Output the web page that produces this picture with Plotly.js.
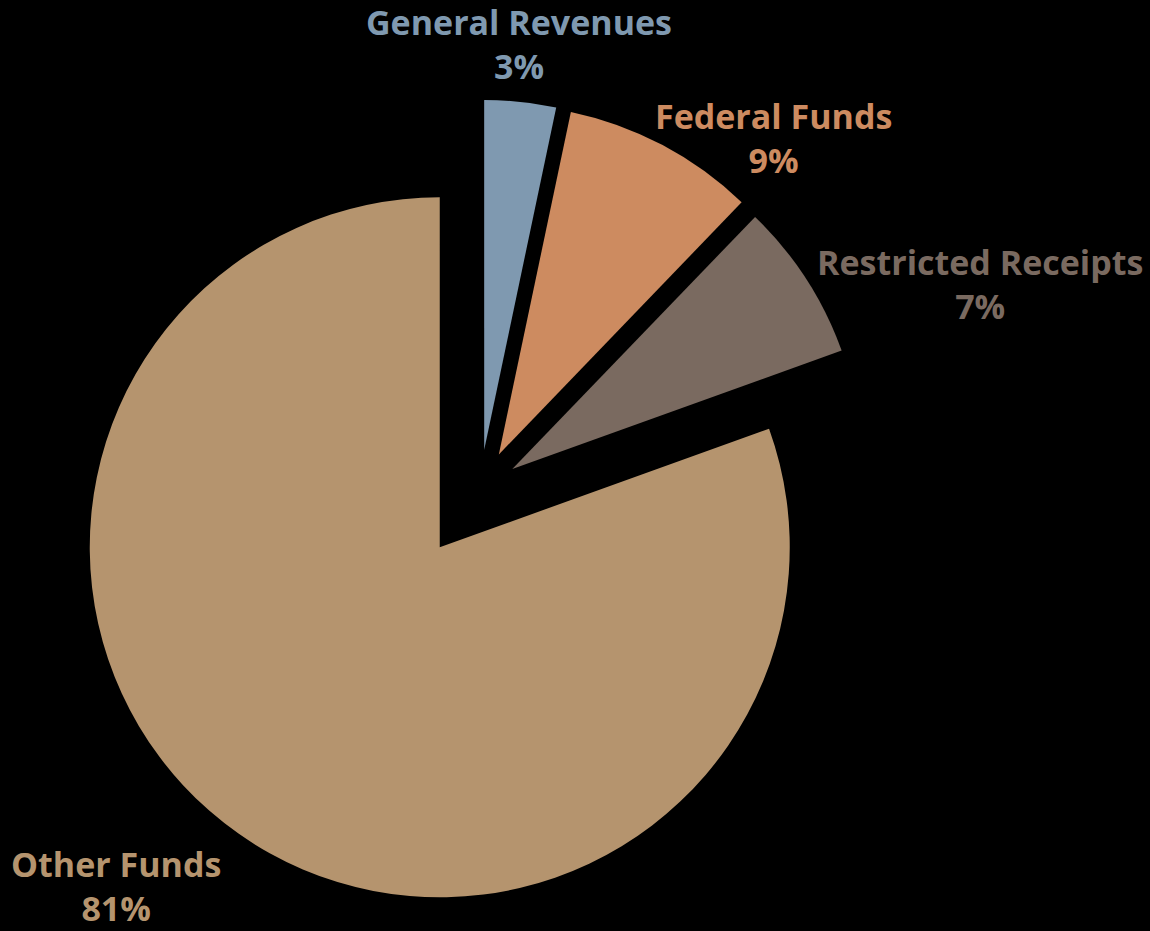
<!DOCTYPE html>
<html>
<head>
<meta charset="utf-8">
<script src="https://cdn.plot.ly/plotly-3.0.1.min.js"></script>
<style>html,body{margin:0;padding:0;background:#000;}#chart{width:1150px;height:931px;}</style>
</head>
<body>
<div id="chart"></div>
<script>
const categories = ["General Revenues", "Federal Funds", "Restricted Receipts", "Other Funds"];
const shares = [3.3, 8.9, 7.3, 80.5];
const pctLabels = ["3%", "9%", "7%", "81%"];
const colors = ["#7f99b0", "#cd8b60", "#7a6a60", "#b5946e"];
const pulls = [0.115, 0.115, 0.11, 0.2];
const labelPos = [[519, 44], [773, 138], [980, 284], [116, 886]];

const W = 1150, H = 931;
const trace = {
  type: "pie",
  labels: categories,
  values: shares,
  sort: false,
  direction: "clockwise",
  rotation: 0,
  pull: pulls,
  textinfo: "none",
  hoverinfo: "label+percent",
  marker: {colors: colors, line: {width: 0}},
  domain: {x: [60 / W, 900 / W], y: [1 - 910 / H, 1 - 70 / H]}
};

const annotations = categories.map((c, i) => ({
  xref: "paper", yref: "paper",
  x: labelPos[i][0] / W, y: 1 - labelPos[i][1] / H,
  xanchor: "center", yanchor: "middle",
  text: c + "<br>" + pctLabels[i],
  showarrow: false,
  font: {family: "'Open Sans', Lato, sans-serif", size: 34, color: colors[i], weight: 700}
}));

Plotly.newPlot("chart", [trace], {
  width: W, height: H,
  margin: {l: 0, r: 0, t: 0, b: 0},
  paper_bgcolor: "#000", plot_bgcolor: "#000",
  showlegend: false,
  annotations: annotations
}, {displayModeBar: false});
</script>
</body>
</html>
